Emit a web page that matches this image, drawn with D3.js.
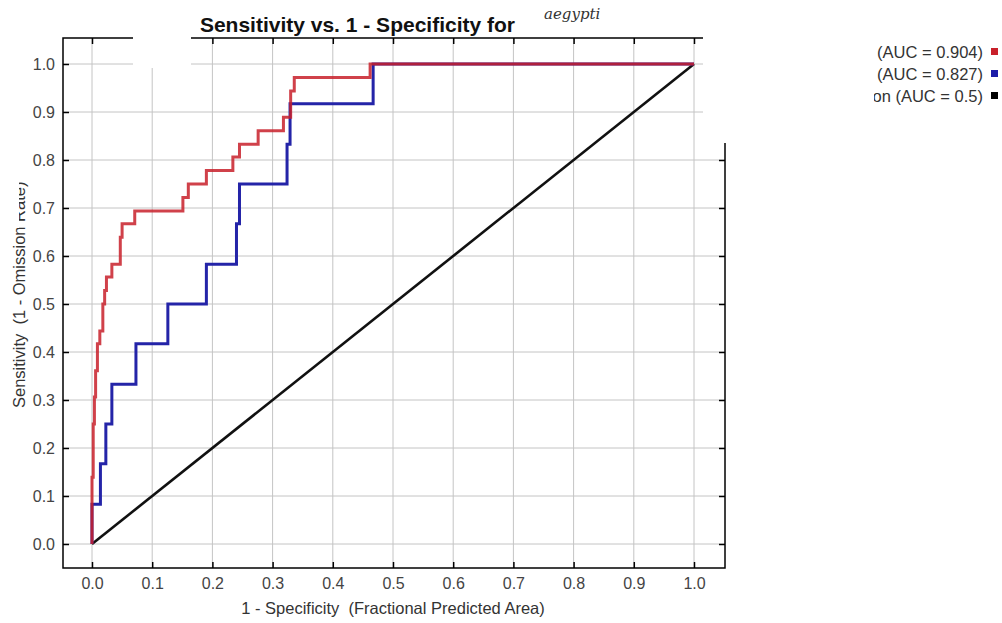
<!DOCTYPE html>
<html>
<head>
<meta charset="utf-8">
<script src="https://cdn.jsdelivr.net/npm/d3@7/dist/d3.min.js"></script>
<style>
  body { margin: 0; background: #fff; }
  svg text { font-family: "Liberation Sans", Arial, sans-serif; white-space: pre; }
</style>
</head>
<body>
<div id="chart"></div>
<script>
// training curve (red), step corners: fpr where the jump happens, tpr after it
var trainFpr = [0, 0, 0.002, 0.004, 0.006, 0.009, 0.013, 0.018, 0.021, 0.024, 0.033, 0.047, 0.05, 0.071,
                0.151, 0.16, 0.19, 0.234, 0.245, 0.276, 0.318, 0.33, 0.336, 0.462, 1.0]
var trainTpr = [0, 0.139, 0.25, 0.306, 0.361, 0.417, 0.444, 0.5, 0.528, 0.556, 0.583, 0.639, 0.667, 0.694,
                0.722, 0.75, 0.778, 0.806, 0.833, 0.861, 0.889, 0.944, 0.972, 1.0, 1.0]
// test curve (blue)
var testFpr = [0, 0, 0.014, 0.023, 0.033, 0.073, 0.126, 0.19, 0.24, 0.245, 0.324, 0.329, 0.467, 1.0]
var testTpr = [0, 0.083, 0.167, 0.25, 0.333, 0.417, 0.5, 0.583, 0.667, 0.75, 0.833, 0.917, 1.0, 1.0]
// random prediction
var randFpr = [0, 1]
var randTpr = [0, 1]

var tickVals = [0, 0.1, 0.2, 0.3, 0.4, 0.5, 0.6, 0.7, 0.8, 0.9, 1.0]
var legendLabels = ["Training data (AUC = 0.904)", "Test data (AUC = 0.827)", "Random Prediction (AUC = 0.5)"]
var legendColors = ["#c8202a", "#1c1ca8", "#000000"]

var W = 1002, H = 623
var fl = 63, fr = 725, ft = 38, fb = 568   // plot frame

var svg = d3.select('#chart').append('svg')
  .attr('width', W)
  .attr('height', H)

var x = d3.scaleLinear().domain([0, 1]).range([92, 694])
var y = d3.scaleLinear().domain([0, 1]).range([544, 64])

// grid
svg.append('g').selectAll('line.gx').data(tickVals).enter().append('line')
  .attr('x1', d => x(d)).attr('x2', d => x(d))
  .attr('y1', ft).attr('y2', fb)
  .attr('stroke', '#c4c4c4').attr('stroke-width', 1)
svg.append('g').selectAll('line.gy').data(tickVals).enter().append('line')
  .attr('x1', fl).attr('x2', fr)
  .attr('y1', d => y(d)).attr('y2', d => y(d))
  .attr('stroke', '#c4c4c4').attr('stroke-width', 1)

// axes (ticks inside the frame)
function styleAxis(g) {
  g.select('.domain').remove()
  g.selectAll('.tick line').attr('stroke', '#000').attr('stroke-width', 1.5)
  g.selectAll('.tick text').attr('fill', '#444').style('font-size', '16px')
    .style('font-family', '"Liberation Sans", Arial, sans-serif')
}
var fmt = d3.format('.1f')
svg.append('g').attr('transform', 'translate(' + fl + ',0)')
  .call(d3.axisLeft(y).tickValues(tickVals).tickFormat(fmt).tickSize(-6).tickPadding(8))
  .call(styleAxis)
svg.append('g').attr('transform', 'translate(0,' + fb + ')')
  .call(d3.axisBottom(x).tickValues(tickVals).tickFormat(fmt).tickSize(-6).tickPadding(10))
  .call(styleAxis)
svg.append('g').attr('transform', 'translate(0,' + ft + ')')
  .call(d3.axisTop(x).tickValues(tickVals).tickFormat('').tickSize(-6))
  .call(styleAxis)
svg.append('g').attr('transform', 'translate(' + fr + ',0)')
  .call(d3.axisRight(y).tickValues(tickVals).tickFormat('').tickSize(-6))
  .call(styleAxis)

// frame
svg.append('rect')
  .attr('x', fl).attr('y', ft)
  .attr('width', fr - fl).attr('height', fb - ft)
  .attr('fill', 'none').attr('stroke', '#000').attr('stroke-width', 1.5)

// curves
var line = d3.line().x(d => x(d[0])).y(d => y(d[1]))
var stepLine = d3.line().x(d => x(d[0])).y(d => y(d[1])).curve(d3.curveStepAfter)

svg.append('path')
  .attr('d', line(d3.zip(randFpr, randTpr)))
  .attr('stroke', '#111').attr('stroke-width', 2.6).attr('fill', 'none')

svg.append('path')
  .attr('d', stepLine(d3.zip(testFpr, testTpr)))
  .attr('stroke', '#2424a8').attr('stroke-width', 3).attr('fill', 'none')

svg.append('path')
  .attr('d', stepLine(d3.zip(trainFpr, trainTpr)))
  .attr('stroke', '#c8202a').attr('stroke-opacity', 0.85).attr('stroke-width', 3).attr('fill', 'none')

// white patches covering parts of the frame
svg.append('rect').attr('x', 133).attr('y', 30).attr('width', 58).attr('height', 38).attr('fill', '#fff')
svg.append('rect').attr('x', 703).attr('y', 0).attr('width', W - 703).attr('height', 143).attr('fill', '#fff')

// title
svg.append('text')
  .attr('x', 515).attr('y', 32)
  .attr('text-anchor', 'end')
  .style('font-size', '21px').style('font-weight', 'bold')
  .attr('fill', '#111')
  .text('Sensitivity vs. 1 - Specificity for')
svg.append('text')
  .attr('x', 544).attr('y', 19)
  .style('font-size', '15px').style('font-style', 'italic')
  .style('font-family', '"DejaVu Serif", serif')
  .attr('fill', '#333')
  .text('aegypti')

// axis labels
svg.append('text')
  .attr('x', 393).attr('y', 614)
  .attr('text-anchor', 'middle')
  .style('font-size', '16.5px').attr('fill', '#333')
  .text('1 - Specificity  (Fractional Predicted Area)')
svg.append('text')
  .attr('transform', 'translate(25,408) rotate(-90)')
  .attr('text-anchor', 'start')
  .style('font-size', '16.5px').attr('fill', '#333')
  .text('Sensitivity  (1 - Omission Rate)')
svg.append('rect').attr('x', 0).attr('y', 140).attr('width', 19).attr('height', 88).attr('fill', '#fff')

// legend
var leg = svg.append('g')
leg.selectAll('text').data(legendLabels).enter().append('text')
  .attr('x', 983).attr('y', (d, i) => 58 + i * 22)
  .attr('text-anchor', 'end')
  .style('font-size', '16.5px').attr('fill', '#333')
  .text(d => d)
leg.selectAll('rect').data(legendColors).enter().append('rect')
  .attr('x', 991).attr('y', (d, i) => 48 + i * 22)
  .attr('width', 7).attr('height', 7)
  .attr('fill', d => d)
svg.append('rect').attr('x', 730).attr('y', 30).attr('width', 144).attr('height', 85).attr('fill', '#fff')
</script>
</body>
</html>
